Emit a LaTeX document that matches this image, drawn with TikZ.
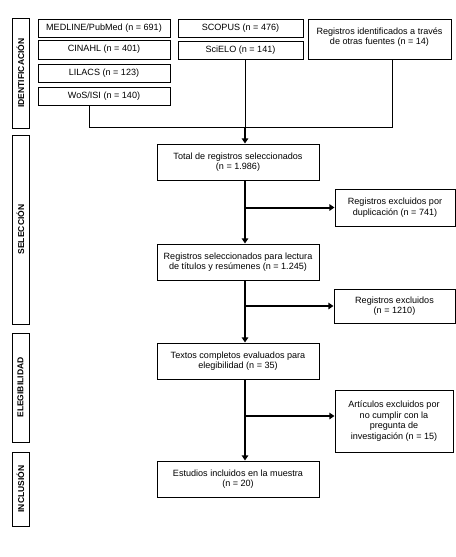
\documentclass[tikz,border=0pt]{standalone}
\usepackage{fontspec}
\setmainfont{Liberation Sans}
\usetikzlibrary{arrows.meta}
\newdimen\pxu \pxu=0.75pt
\begin{document}
\begin{tikzpicture}[x=0.75pt,y=-0.75pt,
 txt/.style={inner sep=0pt, align=center, font=\fontsize{6.8}{7.8}\selectfont},
 box/.style={txt, draw, line width=0.75pt},
 wh/.style 2 args={minimum width=#1*\pxu, minimum height=#2*\pxu},
 side/.style={draw, line width=0.75pt, inner sep=0pt, rotate=90, font=\bfseries\fontsize{6.4}{7}\selectfont, minimum height=17*\pxu},
 thinline/.style={line width=0.75pt},
 mainline/.style={line width=1.5pt},
 arr/.style={mainline, -{Triangle[length=3.8pt,width=4.8pt]}}
]
\useasboundingbox[fill=white] (0,0) rectangle (456,557);

% side labels
\node[side, minimum width=110*\pxu] (sid) at (20.5,73) {IDENTIFICACIÓN};
\node[side, minimum width=189*\pxu] (ssel) at (20.5,229.5) {SELECCIÓN};
\node[side, minimum width=109*\pxu] (sel2) at (20.5,387.5) {ELEGIBILIDAD};
\node[side, minimum width=74*\pxu] (sinc) at (20.5,489) {INCLUSIÓN};

% identification boxes
\node[box, wh={132}{18}] (med) at (104,28) {MEDLINE/PubMed (n = 691)};
\node[box, wh={132}{19}] (cin) at (104,49.5) {CINAHL (n = 401)};
\node[box, wh={132}{18}] (lil) at (104,73) {LILACS (n = 123)};
\node[box, wh={132}{18}] (wos) at (104,96) {WoS/ISI (n = 140)};
\node[box, wh={125}{18}] (sco) at (240.5,28) {SCOPUS (n = 476)};
\node[box, wh={125}{18}] (sci) at (240.5,50) {SciELO (n = 141)};
\node[box, wh={143}{40}] (otr) at (379.5,39) {};
\node[txt] (otrt) at (379.5,37) {Registros identificados a través\\de otras fuentes (n = 14)};

% main flow
\node[box, wh={162}{36}] (tot) at (238,162) {Total de registros seleccionados\\(n = 1.986)};
\node[box, wh={120}{37}] (dup) at (395,207.5) {Registros excluidos por\\duplicación (n = 741)};
\node[box, wh={162}{36}] (sel) at (238,262) {Registros seleccionados para lectura\\de títulos y resúmenes (n = 1.245)};
\node[box, wh={121}{34}] (exc) at (394.5,306) {Registros excluidos\\(n = 1210)};
\node[box, wh={162}{36}] (tex) at (238,361) {Textos completos evaluados para\\elegibilidad (n = 35)};
\node[box, wh={118}{62}] (art) at (394,421) {Artículos excluidos por\\no cumplir con la\\pregunta de\\investigación (n = 15)};
\node[box, wh={162}{36}] (est) at (238,479) {Estudios incluidos en la muestra\\(n = 20)};

% connectors
\coordinate (jl) at (89,127);
\coordinate (j) at (245,127);
\coordinate (jr) at (392,127);
\coordinate (ba) at (245,416);
\draw[thinline] (wos.south -| jl) -- (jl) -- (jr) -- (otr.south -| jr);
\draw[thinline] (sci.south -| j) -- (j);
\draw[arr] (j) -- (tot.north -| j);
\draw[arr] (tot.south -| j) -- (sel.north -| j);
\draw[arr] (dup.west -| j) -- (dup.west);
\draw[arr] (sel.south -| j) -- (tex.north -| j);
\draw[arr] (exc.west -| j) -- (exc.west);
\draw[arr] (tex.south -| j) -- (est.north -| j);
\draw[arr] (ba) -- (ba -| art.west);
\end{tikzpicture}
\end{document}
